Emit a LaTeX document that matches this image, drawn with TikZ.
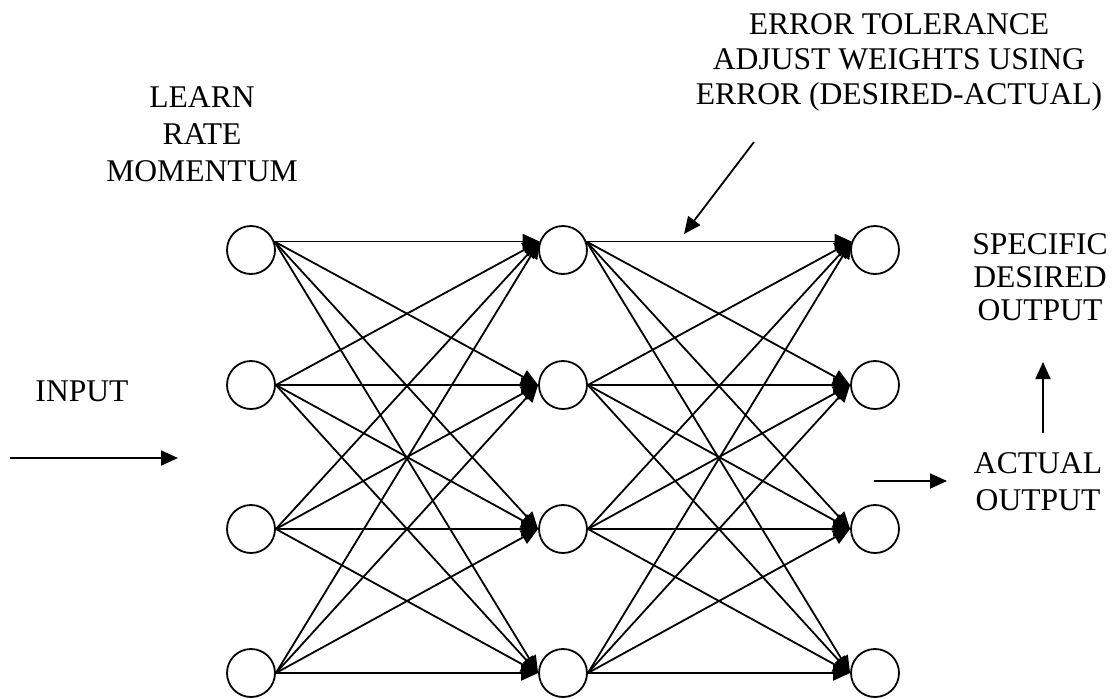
\documentclass[tikz,border=0pt]{standalone}
\usepackage{fontspec}
\setmainfont{Liberation Serif}
\usetikzlibrary{arrows.meta}

\begin{document}
\begin{tikzpicture}[
  x=0.5pt, y=-0.5pt,
  neuron/.style={circle, draw, line width=0.9pt, minimum size=24pt, inner sep=0pt},
  lbl/.style={font=\fontsize{15.8}{18.5}\selectfont, align=center, inner sep=0pt, anchor=north},
  conn/.style={-{Triangle[length=8.5pt, width=7.5pt]}, line width=0.9pt}
]
  \useasboundingbox (0,0) rectangle (1114,698);
  % three layers of four neurons
  \node[neuron] (in1) at (251,250) {};
  \node[neuron] (in2) at (251,385) {};
  \node[neuron] (in3) at (251,529) {};
  \node[neuron] (in4) at (251,673) {};
  \node[neuron] (hid1) at (563,250) {};
  \node[neuron] (hid2) at (563,385) {};
  \node[neuron] (hid3) at (563,529) {};
  \node[neuron] (hid4) at (563,673) {};
  \node[neuron] (out1) at (875,250) {};
  \node[neuron] (out2) at (875,385) {};
  \node[neuron] (out3) at (875,529) {};
  \node[neuron] (out4) at (875,673) {};
  % full connections, top row leaves a little higher
  \foreach \i/\a in {1/20,2/0,3/0,4/0}
    \foreach \j/\b in {1/160,2/180,3/180,4/180} {
      \draw[conn] (in\i.\a) -- (hid\j.\b);
      \draw[conn] (hid\i.\a) -- (out\j.\b);
    }
  % labels
  \node[lbl] (learn) at (202,86) {LEARN\\RATE\\MOMENTUM};
  \node[lbl, font=\fontsize{15.8}{17.5}\selectfont] (errtol) at (899,13)
    {ERROR TOLERANCE\\ADJUST WEIGHTS USING\\ERROR (DESIRED-ACTUAL)};
  \node[lbl, font=\fontsize{15.8}{16.5}\selectfont] (specific) at (1040,233) {SPECIFIC\\DESIRED\\OUTPUT};
  \node[lbl] (input) at (82,380) {INPUT};
  \node[lbl] (actual) at (1038,452) {ACTUAL\\OUTPUT};
  % free arrows
  \coordinate (inputtail) at (10,458);
  \coordinate (inputhead) at (178,458);
  \coordinate (errtail) at (754,142);
  \coordinate (errhead) at (684,234);
  \coordinate (acttail) at (874,481);
  \coordinate (acthead) at (947,481);
  \coordinate (uptail) at (1043,433);
  \coordinate (uphead) at (1043,362);
  \draw[conn] (inputtail) -- (inputhead);
  \draw[conn] (errtail) -- (errhead);
  \draw[conn] (acttail) -- (acthead);
  \draw[conn] (uptail) -- (uphead);
\end{tikzpicture}
\end{document}
